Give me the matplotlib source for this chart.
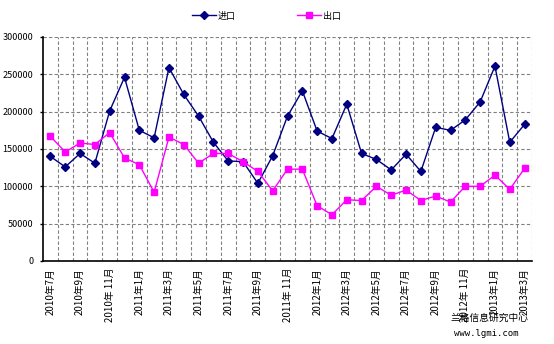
import numpy as np
import matplotlib
matplotlib.use('Agg')
import matplotlib.pyplot as plt
from matplotlib.ticker import FixedLocator

plt.rcParams['font.family'] = ['Noto Sans CJK SC', 'DejaVu Sans']

# monthly data, 2010-07 .. 2013-03
months = []
for y, m in [(2010, m) for m in range(7, 13)] + [(2011, m) for m in range(1, 13)] + \
        [(2012, m) for m in range(1, 13)] + [(2013, m) for m in range(1, 4)]:
    months.append('%d年%d月' % (y, m) if m != 11 else '%d年 %d月' % (y, m))

imports = [140000, 126000, 144000, 131000, 201000, 246000, 175000, 165000, 259000,
           223000, 194000, 159000, 134000, 133000, 104000, 141000, 194000, 228000,
           174000, 164000, 210000, 144000, 136000, 122000, 143000, 120000, 179000,
           175000, 189000, 213000, 261000, 159000, 183000]
exports = [167000, 146000, 158000, 156000, 172000, 138000, 129000, 92000, 166000,
           156000, 131000, 144000, 144000, 133000, 120000, 94000, 123000, 123000,
           74000, 62000, 82000, 81000, 100000, 88000, 95000, 81000, 87000,
           79000, 100000, 100000, 115000, 96000, 124000]

yticks = [0, 50000, 100000, 150000, 200000, 250000, 300000]

fig = plt.figure(figsize=(5.54, 3.44), dpi=100)
ax = fig.add_axes([43 / 554, 1 - 261 / 344, 489 / 554, 224 / 344])

x = np.arange(len(months))
ax.plot(x, imports, color='#000080', lw=1, marker='D', ms=3.8, label='进口')
ax.plot(x, exports, color='#ff00ff', lw=1, marker='s', ms=4.5, label='出口')

ax.set_xlim(-0.5, len(months) - 0.5)
ax.set_ylim(0, 300000)
ax.set_yticks(yticks)
ax.set_yticklabels([str(v) for v in yticks], fontsize=6.5)
ax.set_xticks(x[::2])
ax.set_xticklabels(months[::2], rotation=90, fontsize=7)
ax.xaxis.set_minor_locator(FixedLocator(np.arange(0.5, len(months), 1)))
ax.tick_params(axis='x', which='both', length=0, pad=5)
ax.tick_params(axis='y', length=2, width=1, pad=5)
ax.grid(True, axis='y', color='#808080', ls=(0, (3, 2)), lw=0.8)
ax.grid(True, axis='x', which='minor', color='#808080', ls=(0, (3, 2)), lw=0.8)
ax.set_axisbelow(True)
for s in ['top', 'right']:
    ax.spines[s].set_visible(False)
for s in ['left', 'bottom']:
    ax.spines[s].set_linewidth(1.2)

fig.legend(loc='upper center', bbox_to_anchor=(0.481, 0.99), ncol=2, frameon=False,
           fontsize=6.5, handlelength=2.6, handletextpad=0.25, columnspacing=6.8)

fig.text(528 / 554, 1 - 318 / 344, '兰格信息研究中心', fontsize=7, ha='right', va='center')
fig.text(519 / 554, 1 - 333 / 344, 'www.lgmi.com', fontsize=6.5, ha='right', va='center',
         family='DejaVu Sans Mono')

fig.savefig('out.png', dpi=100)
